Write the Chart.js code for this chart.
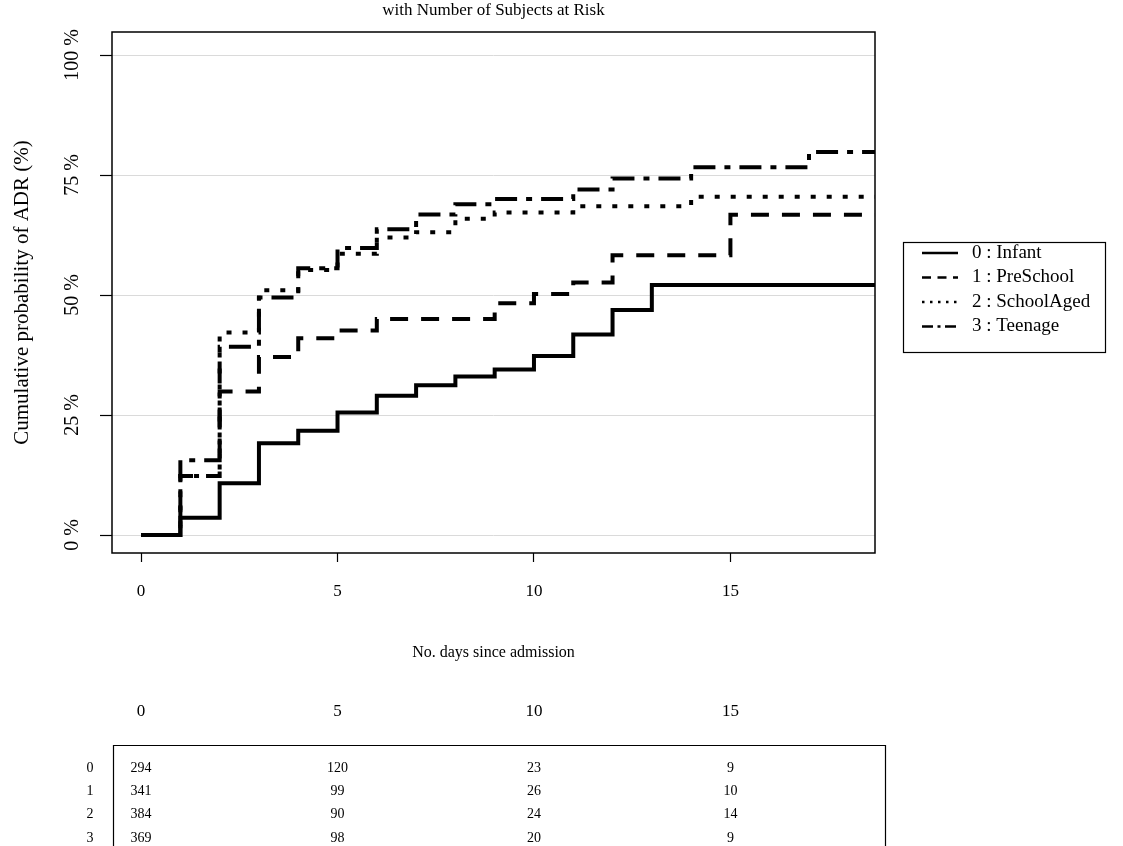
<!DOCTYPE html>
<html>
<head>
<meta charset="utf-8">
<title>Cumulative probability of ADR</title>
<script src="https://cdn.jsdelivr.net/npm/chart.js@4.4.1/dist/chart.umd.min.js"></script>
<style>
  html, body { margin: 0; padding: 0; background: #fff; }
  #wrap { width: 1123px; height: 846px; }
</style>
</head>
<body>
<div id="wrap"><canvas id="kmChart" width="1123" height="846"></canvas></div>
<script>
// days since admission (day 19 only carries the last value to the right edge)
var days = [0, 1, 2, 3, 4, 5, 6, 7, 8, 9, 10, 11, 12, 13, 14, 15, 16, 17, 18, 19];

var groupLabels = ['0 : Infant', '1 : PreSchool', '2 : SchoolAged', '3 : Teenage'];

// cumulative probability of ADR (%) per age group
var infant     = [0, 3.6, 10.8, 19.1, 21.7, 25.5, 29.0, 31.2, 33.0, 34.5, 37.3, 41.8, 46.9, 52.1, 52.1, 52.1, 52.1, 52.1, 52.1, 52.1];
var preSchool  = [0, 12.3, 29.9, 37.1, 41.0, 42.6, 45.0, 45.0, 45.0, 48.3, 50.2, 52.6, 58.3, 58.3, 58.3, 66.7, 66.7, 66.7, 66.7, 66.7];
var schoolAged = [0, 12.3, 42.2, 51.0, 55.2, 58.6, 62.0, 63.1, 65.9, 67.2, 67.2, 68.5, 68.5, 68.5, 70.5, 70.5, 70.5, 70.5, 70.5, 70.5];
var teenage    = [0, 15.6, 39.2, 49.5, 55.6, 59.8, 63.7, 66.8, 68.9, 70.0, 70.0, 72.0, 74.3, 74.3, 76.6, 76.6, 76.6, 79.8, 79.8, 79.8];

// number at risk table
var riskTimes = [0, 5, 10, 15];
var riskGroups = ['0', '1', '2', '3'];
var riskInfant = [294, 120, 23, 9];
var riskPreSchool = [341, 99, 26, 10];
var riskSchoolAged = [384, 90, 24, 14];
var riskTeenage = [369, 98, 20, 9];

var yTicks = [0, 25, 50, 75, 100];
var xTicks = [0, 5, 10, 15];

var serif = '"Liberation Serif", "Times New Roman", serif';
Chart.defaults.font.family = serif;
Chart.defaults.color = '#000';

function toPoints(vals) {
    return days.map(function (d, i) { return { x: d, y: vals[i] }; });
}

function lineSet(label, vals, dash) {
    return {
        label: label,
        data: toPoints(vals),
        borderColor: '#000',
        borderWidth: 4,
        borderDash: dash,
        borderCapStyle: 'butt',
        borderJoinStyle: 'miter',
        stepped: true,
        pointRadius: 0,
        fill: false,
        clip: 0
    };
}

// box round the plotting region
var plotBox = {
    id: 'plotBox',
    afterDatasetsDraw: function (chart) {
        var a = chart.chartArea, ctx = chart.ctx;
        ctx.save();
        ctx.strokeStyle = '#000';
        ctx.lineWidth = 1.5;
        ctx.strokeRect(a.left, a.top, a.right - a.left, a.bottom - a.top);
        ctx.restore();
    }
};

// legend with a frame, to the right of the plot
var legendBox = {
    id: 'legendBox',
    afterDraw: function (chart) {
        var ctx = chart.ctx;
        ctx.save();
        ctx.strokeStyle = '#000';
        ctx.lineWidth = 1.2;
        ctx.strokeRect(903.5, 242.5, 202, 110);
        chart.data.datasets.forEach(function (ds, i) {
            var y = 253 + i * 24.5;
            ctx.setLineDash(ds.borderDash.map(function (v) { return v * 0.5; }));
            ctx.lineWidth = 2.5;
            ctx.beginPath();
            ctx.moveTo(922, y);
            ctx.lineTo(958, y);
            ctx.stroke();
            ctx.setLineDash([]);
            ctx.fillStyle = '#000';
            ctx.font = '19px ' + serif;
            ctx.textBaseline = 'middle';
            ctx.textAlign = 'left';
            ctx.fillText(ds.label, 972, y);
        });
        ctx.restore();
    }
};

// number at risk table under the x axis, placed with the x scale
var riskTable = {
    id: 'riskTable',
    afterDraw: function (chart) {
        var ctx = chart.ctx, xs = chart.scales.x;
        var rows = [riskInfant, riskPreSchool, riskSchoolAged, riskTeenage];
        ctx.save();
        ctx.fillStyle = '#000';
        ctx.textAlign = 'center';
        ctx.textBaseline = 'middle';
        ctx.font = '17px ' + serif;
        riskTimes.forEach(function (t) {
            ctx.fillText(String(t), xs.getPixelForValue(t), 712);
        });
        ctx.strokeStyle = '#000';
        ctx.lineWidth = 1.2;
        ctx.beginPath();
        ctx.moveTo(113.5, 850);
        ctx.lineTo(113.5, 745.5);
        ctx.lineTo(885.5, 745.5);
        ctx.lineTo(885.5, 850);
        ctx.stroke();
        ctx.font = '14px ' + serif;
        rows.forEach(function (row, r) {
            var y = 768 + r * 23.4;
            ctx.fillText(riskGroups[r], 90, y);
            row.forEach(function (n, k) {
                ctx.fillText(String(n), xs.getPixelForValue(riskTimes[k]), y);
            });
        });
        ctx.restore();
    }
};

var ctx = document.getElementById('kmChart').getContext('2d');
var kmChart = new Chart(ctx, {
    type: 'line',
    data: {
        datasets: [
            lineSet(groupLabels[0], infant, []),
            lineSet(groupLabels[1], preSchool, [18, 13]),
            lineSet(groupLabels[2], schoolAged, [5, 11]),
            lineSet(groupLabels[3], teenage, [22, 9, 6, 9])
        ]
    },
    options: {
        responsive: false,
        animation: false,
        devicePixelRatio: 1,
        layout: { padding: { left: 0, right: 248, top: 0, bottom: 173 } },
        plugins: {
            legend: { display: false },
            tooltip: { enabled: false },
            title: {
                display: true,
                fullSize: false,
                text: 'with Number of Subjects at Risk',
                color: '#000',
                font: { size: 17, weight: 'normal', family: serif },
                padding: { top: 0, bottom: 11.6 }
            }
        },
        scales: {
            x: {
                type: 'linear',
                min: -0.74,
                max: 18.68,
                afterFit: function (scale) { scale.height = 120; },
                afterBuildTicks: function (scale) {
                    scale.ticks = xTicks.map(function (v) { return { value: v }; });
                },
                border: { display: false },
                grid: {
                    display: true,
                    drawOnChartArea: false,
                    drawTicks: true,
                    tickLength: 9,
                    tickColor: '#000',
                    tickWidth: 1.2
                },
                ticks: {
                    padding: 19,
                    maxRotation: 0,
                    font: { size: 17 },
                    color: '#000'
                },
                title: {
                    display: true,
                    text: 'No. days since admission',
                    color: '#000',
                    font: { size: 16 },
                    padding: { top: 0, bottom: 11 }
                }
            },
            y: {
                type: 'linear',
                min: -3.75,
                max: 104.8,
                afterFit: function (scale) { scale.width = 112; },
                afterBuildTicks: function (scale) {
                    scale.ticks = yTicks.map(function (v) { return { value: v }; });
                },
                border: { display: false },
                grid: {
                    color: '#dadada',
                    lineWidth: 1,
                    drawTicks: true,
                    tickLength: 12,
                    tickColor: '#000',
                    tickWidth: 1.2
                },
                ticks: {
                    minRotation: 90,
                    maxRotation: 90,
                    crossAlign: 'center',
                    padding: 1,
                    font: { size: 20 },
                    color: '#000',
                    callback: function (v) { return v + ' %'; }
                },
                title: {
                    display: true,
                    text: 'Cumulative probability of ADR (%)',
                    color: '#000',
                    font: { size: 21 },
                    padding: { top: 10, bottom: 0 }
                }
            }
        }
    },
    plugins: [plotBox, legendBox, riskTable]
});
</script>
</body>
</html>
